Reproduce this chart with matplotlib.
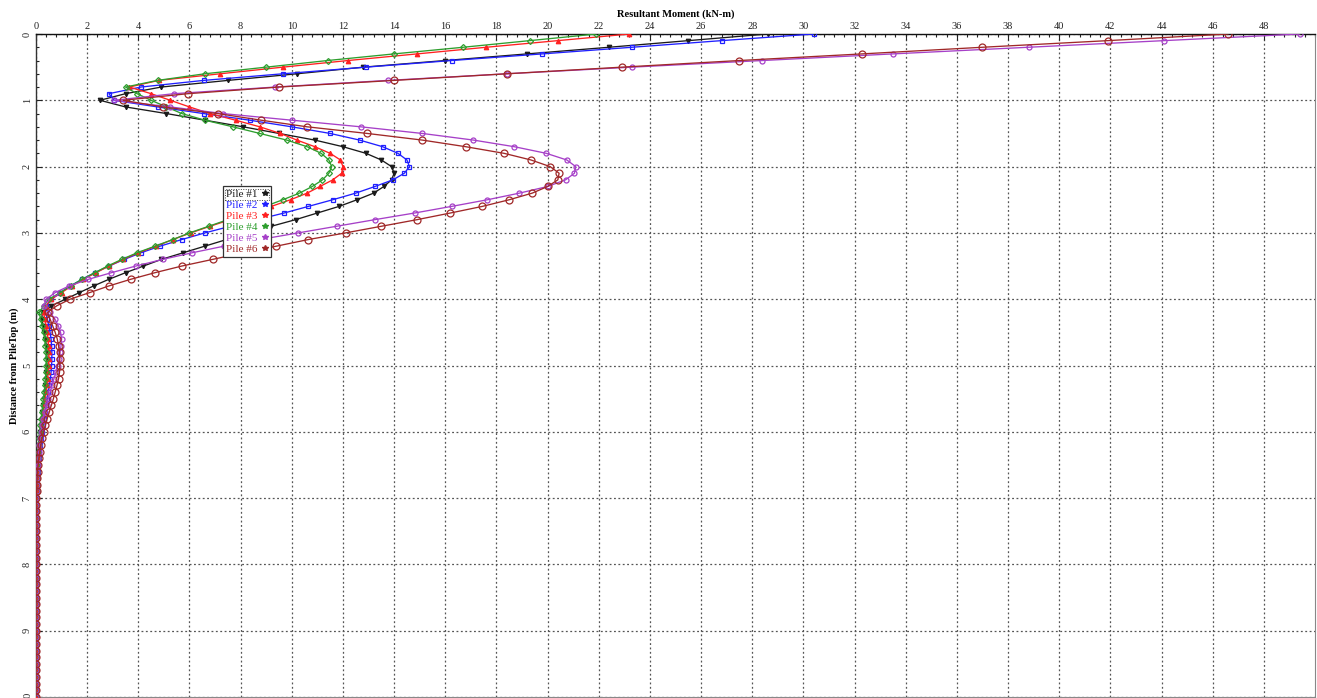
import numpy as np
import matplotlib
matplotlib.use("Agg")
import matplotlib.pyplot as plt
from matplotlib.lines import Line2D
from matplotlib.patches import Rectangle
from matplotlib.ticker import MultipleLocator

plt.rcParams["font.family"] = ["Liberation Serif", "DejaVu Serif"]

# Pile nodes every 0.1 m from the pile top down to 10 m
depth = np.linspace(0.0, 10.0, 101)

pile1 = [28.6, 25.5, 22.4, 19.2, 16.0, 12.8, 10.2, 7.5, 4.9, 3.5,
         2.5, 3.5, 5.1, 6.6, 8.1, 9.5, 10.9, 12.0, 12.9, 13.5,
         13.9, 14.0, 13.9, 13.6, 13.2, 12.55, 11.85, 11.0, 10.15, 9.2,
         8.35, 7.45, 6.6, 5.75, 4.9, 4.2, 3.5, 2.85, 2.25, 1.7,
         1.15, 0.6, 0.25, 0.22, 0.28, 0.33, 0.37, 0.40, 0.42, 0.42,
         0.42, 0.41, 0.39, 0.37, 0.34, 0.31, 0.28, 0.25, 0.22, 0.19,
         0.16, 0.13, 0.11, 0.09, 0.07, 0.05, 0.04, 0.03, 0.02, 0.02,
         0.01, 0.01, 0.01, 0.0, 0.0, 0.0, 0.0, 0.0, 0.0, 0.0,
         0.0, 0.0, 0.0, 0.0, 0.0, 0.0, 0.0, 0.0, 0.0, 0.0,
         0.0, 0.0, 0.0, 0.0, 0.0, 0.0, 0.0, 0.0, 0.0, 0.0, 0.0]

pile2 = [30.4, 26.8, 23.3, 19.8, 16.25, 12.9, 9.65, 6.55, 4.1, 2.85,
         3.05, 4.75, 6.55, 8.35, 10.0, 11.5, 12.65, 13.55, 14.15, 14.5,
         14.6, 14.4, 13.95, 13.25, 12.5, 11.6, 10.65, 9.7, 8.65, 7.6,
         6.6, 5.7, 4.85, 4.1, 3.45, 2.85, 2.3, 1.8, 1.35, 0.95,
         0.6, 0.4, 0.38, 0.44, 0.5, 0.55, 0.59, 0.61, 0.62, 0.62,
         0.61, 0.59, 0.56, 0.52, 0.48, 0.44, 0.40, 0.35, 0.31, 0.27,
         0.23, 0.19, 0.16, 0.13, 0.10, 0.08, 0.06, 0.04, 0.03, 0.02,
         0.01, 0.01, 0.01, 0.0, 0.0, 0.0, 0.0, 0.0, 0.0, 0.0,
         0.0, 0.0, 0.0, 0.0, 0.0, 0.0, 0.0, 0.0, 0.0, 0.0,
         0.0, 0.0, 0.0, 0.0, 0.0, 0.0, 0.0, 0.0, 0.0, 0.0, 0.0]

pile3 = [23.2, 20.4, 17.6, 14.9, 12.2, 9.65, 7.2, 4.8, 3.65, 4.5,
         5.25, 6.0, 6.8, 7.8, 8.75, 9.55, 10.2, 10.9, 11.5, 11.9,
         12.0, 11.95, 11.6, 11.1, 10.6, 9.95, 9.2, 8.4, 7.6, 6.8,
         6.05, 5.35, 4.7, 4.0, 3.4, 2.85, 2.35, 1.85, 1.4, 1.0,
         0.6, 0.38, 0.3, 0.34, 0.4, 0.44, 0.47, 0.49, 0.5, 0.5,
         0.49, 0.47, 0.45, 0.42, 0.39, 0.35, 0.32, 0.28, 0.24, 0.21,
         0.18, 0.15, 0.12, 0.10, 0.08, 0.06, 0.05, 0.04, 0.03, 0.02,
         0.01, 0.01, 0.0, 0.0, 0.0, 0.0, 0.0, 0.0, 0.0, 0.0,
         0.0, 0.0, 0.0, 0.0, 0.0, 0.0, 0.0, 0.0, 0.0, 0.0,
         0.0, 0.0, 0.0, 0.0, 0.0, 0.0, 0.0, 0.0, 0.0, 0.0, 0.0]

pile4 = [21.9, 19.3, 16.7, 14.0, 11.4, 9.0, 6.6, 4.75, 3.5, 3.95,
         4.5, 5.1, 5.7, 6.6, 7.7, 8.75, 9.8, 10.6, 11.15, 11.45,
         11.56, 11.45, 11.2, 10.8, 10.3, 9.65, 8.95, 8.2, 7.5, 6.75,
         6.0, 5.35, 4.65, 3.95, 3.35, 2.8, 2.3, 1.8, 1.35, 0.95,
         0.5, 0.3, 0.12, 0.18, 0.24, 0.3, 0.34, 0.37, 0.39, 0.4,
         0.4, 0.39, 0.37, 0.35, 0.32, 0.29, 0.26, 0.23, 0.2, 0.17,
         0.14, 0.12, 0.10, 0.08, 0.06, 0.05, 0.04, 0.03, 0.02, 0.02,
         0.01, 0.01, 0.0, 0.0, 0.0, 0.0, 0.0, 0.0, 0.0, 0.0,
         0.0, 0.0, 0.0, 0.0, 0.0, 0.0, 0.0, 0.0, 0.0, 0.0,
         0.0, 0.0, 0.0, 0.0, 0.0, 0.0, 0.0, 0.0, 0.0, 0.0, 0.0]

pile5 = [49.4, 44.1, 38.8, 33.5, 28.4, 23.3, 18.4, 13.75, 9.35, 5.4,
         3.05, 5.25, 7.3, 10.0, 12.7, 15.1, 17.1, 18.7, 19.95, 20.75,
         21.1, 21.05, 20.7, 20.0, 18.9, 17.65, 16.25, 14.8, 13.25, 11.75,
         10.25, 8.75, 7.35, 6.1, 4.95, 3.9, 2.95, 2.05, 1.3, 0.75,
         0.4, 0.3, 0.55, 0.74, 0.87, 0.96, 1.0, 0.98, 0.94, 0.9,
         0.85, 0.78, 0.7, 0.63, 0.55, 0.48, 0.42, 0.35, 0.29, 0.24,
         0.2, 0.16, 0.13, 0.1, 0.08, 0.06, 0.04, 0.03, 0.02, 0.02,
         0.01, 0.01, 0.01, 0.0, 0.0, 0.0, 0.0, 0.0, 0.0, 0.0,
         0.0, 0.0, 0.0, 0.0, 0.0, 0.0, 0.0, 0.0, 0.0, 0.0,
         0.0, 0.0, 0.0, 0.0, 0.0, 0.0, 0.0, 0.0, 0.0, 0.0, 0.0]

pile6 = [46.6, 41.9, 37.0, 32.3, 27.5, 22.9, 18.4, 14.0, 9.5, 5.95,
         3.4, 4.95, 7.1, 8.8, 10.6, 12.95, 15.1, 16.8, 18.3, 19.35,
         20.1, 20.45, 20.4, 20.0, 19.4, 18.5, 17.45, 16.2, 14.9, 13.5,
         12.1, 10.65, 9.4, 8.1, 6.9, 5.7, 4.65, 3.7, 2.85, 2.1,
         1.33, 0.81, 0.45, 0.55, 0.65, 0.75, 0.83, 0.88, 0.92, 0.93,
         0.93, 0.92, 0.88, 0.82, 0.75, 0.68, 0.6, 0.52, 0.44, 0.37,
         0.3, 0.24, 0.19, 0.15, 0.11, 0.08, 0.06, 0.04, 0.03, 0.02,
         0.01, 0.01, 0.01, 0.0, 0.0, 0.0, 0.0, 0.0, 0.0, 0.0,
         0.0, 0.0, 0.0, 0.0, 0.0, 0.0, 0.0, 0.0, 0.0, 0.0,
         0.0, 0.0, 0.0, 0.0, 0.0, 0.0, 0.0, 0.0, 0.0, 0.0, 0.0]

labels = ["Pile #1", "Pile #2", "Pile #3", "Pile #4", "Pile #5", "Pile #6"]
series = [pile1, pile2, pile3, pile4, pile5, pile6]
colors = ["#1a1a1a", "#2020ff", "#ff2020", "#2e9e2e", "#a640c8", "#a02828"]
markers = ["v", "s", "^", "D", "o", "o"]
msizes = [3.2, 3.2, 3.2, 3.0, 3.6, 5.0]
filled = [True, False, True, False, False, False]

fig = plt.figure(figsize=(13.17, 6.98), dpi=100)
ax = fig.add_axes([36 / 1317, 1 / 698, 1279 / 1317, 663 / 698])

for vals, lab, c, m, ms, f in zip(series, labels, colors, markers, msizes, filled):
    ax.plot(vals, depth, color=c, lw=0.95, marker=m, ms=ms,
            mfc=c if f else "none", mec=c, mew=0.9, label=lab, zorder=3)

ax.set_xlim(0, 50)
ax.set_ylim(10, 0)

ax.xaxis.tick_top()
ax.xaxis.set_label_position("top")
ax.set_xticks(np.arange(0, 50, 2))
ax.xaxis.set_minor_locator(MultipleLocator(0.4))
ax.yaxis.set_major_locator(MultipleLocator(1))
ax.yaxis.set_minor_locator(MultipleLocator(0.2))

ax.tick_params(axis="x", which="both", direction="in", top=True, bottom=False,
               labelsize=7.5, pad=2, colors="#222")
ax.tick_params(axis="x", which="major", length=4, width=0.8)
ax.tick_params(axis="x", which="minor", length=2.5, width=0.8)
ax.tick_params(axis="y", which="both", direction="in", left=True, right=False,
               labelsize=7.5, pad=3, colors="#222", labelrotation=90)
ax.tick_params(axis="y", which="major", length=4, width=0.8)
ax.tick_params(axis="y", which="minor", length=2.5, width=0.8)
for t in ax.get_yticklabels():
    t.set_verticalalignment("center")

ax.grid(True, which="major", color="#555555", lw=0.9, ls=(0, (1.5, 2.0)), zorder=1)

ax.spines["top"].set_color("#111111")
ax.spines["top"].set_linewidth(1.0)
ax.spines["left"].set_color("#333333")
ax.spines["left"].set_linewidth(1.0)
ax.spines["right"].set_color("#888888")
ax.spines["right"].set_linewidth(0.8)
ax.spines["bottom"].set_color("#888888")
ax.spines["bottom"].set_linewidth(0.8)

ax.set_xlabel("Resultant Moment (kN-m)", fontsize=7.5, fontweight="bold", labelpad=4)
ax.set_ylabel("Distance from PileTop (m)", fontsize=7.5, fontweight="bold", labelpad=3)

handles = [Line2D([], [], ls="none", marker="*", ms=4, color=c) for c in colors]
leg = ax.legend(handles, labels, loc="upper left",
                bbox_to_anchor=((223 - 36) / 1279, (697 - 186) / 663),
                borderaxespad=0, markerfirst=False, labelcolor=colors,
                handlelength=0.6, handletextpad=0.4, borderpad=0.25,
                labelspacing=0.12, fontsize=8, fancybox=False, framealpha=1,
                edgecolor="#333333")
leg.get_frame().set_linewidth(0.9)
leg.set_zorder(5)

# Dotted selection box around the first legend entry
fig.canvas.draw()
renderer = fig.canvas.get_renderer()
frame_bb = leg.get_frame().get_window_extent(renderer)
text_bb = leg.get_texts()[0].get_window_extent(renderer)
x0 = frame_bb.x0 + 2
x1 = frame_bb.x1 - 2
y0 = text_bb.y0 - 1
y1 = text_bb.y1 + 1
sel = Rectangle((x0, y0), x1 - x0, y1 - y0, transform=None, fill=False,
                edgecolor="#444444", lw=0.7, ls=(0, (1, 1.5)), zorder=6)
fig.add_artist(sel)

fig.savefig("out.png", dpi=100)
